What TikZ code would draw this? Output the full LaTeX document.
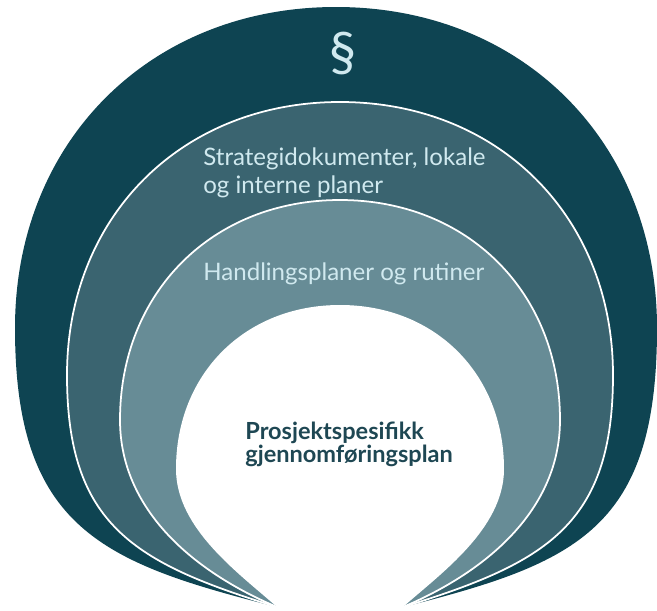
\documentclass[tikz,border=0pt]{standalone}
\usepackage{fontspec}
\setmainfont{Lato}
\definecolor{ringA}{HTML}{0E4452}
\definecolor{ringB}{HTML}{3A6470}
\definecolor{ringC}{HTML}{678C96}
\definecolor{palelabel}{HTML}{D0E9EF}
\definecolor{darklabel}{HTML}{1E4753}

\begin{document}
\begin{tikzpicture}[x=0.02cm, y=0.02cm, every node/.style={inner sep=0pt, font=\fontsize{13.7}{16}\selectfont}]
        \useasboundingbox (0,0) rectangle (657,610);
        \foreach \cx/\cy/\r/\k/\px/\py/\col/\lc in {336/282/321/200/102/47/ringA/none, 340/235/273/150/134/47/ringB/white, 340/190/220/90/194/38/ringC/white, 340/141/164/60/240/36/white/none}{
          \filldraw[fill=\col, draw=\lc, line width=1pt, line join=round] (277,3) .. controls (\px,\py) and ({\cx-\r},{\cy-\k}) .. ({\cx-\r},\cy)
            .. controls ({\cx-\r},{\cy+0.58*\r}) and ({\cx-0.58*\r},{\cy+\r}) .. (\cx,{\cy+\r})
            .. controls ({\cx+0.58*\r},{\cy+\r}) and ({\cx+\r},{\cy+0.58*\r}) .. ({\cx+\r},\cy)
            .. controls ({\cx+\r},{\cy-\k}) and ({680-\px},\py) .. (403,3) -- cycle;
        }
        \node[palelabel, font=\fontsize{31}{32}\selectfont] (para) at (343,557) {§};
        \node[palelabel, anchor=base west] (strat1) at (203,445) {Strategidokumenter, lokale};
        \node[palelabel, anchor=base west] (strat2) at (203,417) {og interne planer};
        \node[palelabel, anchor=base west] (handl) at (203,330) {Handlingsplaner og rutiner};
        \node[darklabel, anchor=base west, font=\bfseries\fontsize{13.4}{15}\selectfont] (prosj1) at (245,171) {Prosjektspesifikk};
        \node[darklabel, anchor=base west, font=\bfseries\fontsize{13.4}{15}\selectfont] (prosj2) at (245,148) {gjennomføringsplan};
      \end{tikzpicture}
\end{document}
